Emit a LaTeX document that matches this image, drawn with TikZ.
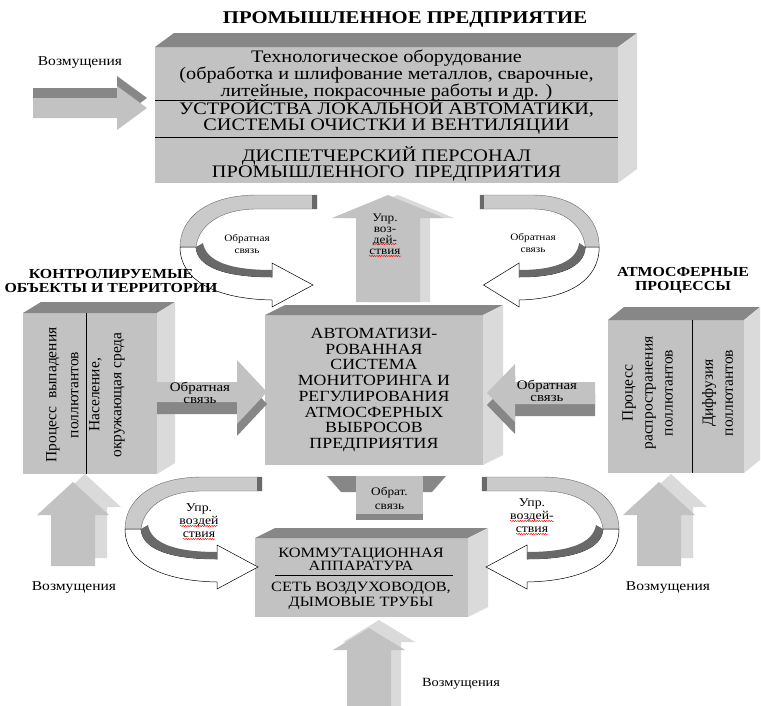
\documentclass[tikz,border=0pt]{standalone}
\usepackage{fontspec}
\setmainfont{Liberation Serif}[FakeStretch=1.15]
\newfontfamily\rotfont{Liberation Serif}
\usepackage{tikz}
\usetikzlibrary{positioning, decorations.pathmorphing}
\definecolor{facegray}{RGB}{194,194,194}
\definecolor{topgray}{RGB}{135,135,135}
\definecolor{sidegray}{RGB}{218,218,218}
\definecolor{bandgray}{RGB}{202,202,202}
\definecolor{edgegray}{RGB}{105,105,105}

% top and side faces of a 3D block
\newcommand{\blockfaces}[3]{%
  \fill[topgray] (#1.north west) -- ++(#2,-#3) -- ([shift={(#2,-#3)}]#1.north east) -- (#1.north east) -- cycle;
  \fill[sidegray] (#1.north east) -- ++(#2,-#3) -- ([shift={(#2,-#3)}]#1.south east) -- (#1.south east) -- cycle;}

\tikzset{
  pics/blockarrow/.style n args={5}{code={%
    \fill[#5] (0,-#2) -- ({#1-#4},-#2) -- ({#1-#4},-#3) -- (#1,0) -- ({#1-#4},#3) -- ({#1-#4},#2) -- (0,#2) -- cycle;}},
  pics/twist/.style={code={%
    % upper band
    \filldraw[fill=bandgray, draw=edgegray, line width=0.4pt] (0,2) -- (-60,2) .. controls (-110,2) and (-137,25) .. (-137,54)
      -- (-121,54) .. controls (-119,35) and (-100,16) .. (-60,16) -- (0,16) -- cycle;
    \fill[edgegray] (-5,2) rectangle (0,16);
    % lower band and head
    \filldraw[fill=white, draw=black, line width=0.5pt] (-137,54) .. controls (-137,88) and (-100,106) .. (-45,107)
      -- (-45,114) -- (-4,92) -- (-45,70) -- (-45,84) .. controls (-92,84) and (-120,74) .. (-121,54) -- cycle;
    \fill[edgegray] (-121,54) .. controls (-120,74) and (-92,84) .. (-45,84) -- (-45,77)
      .. controls (-88,77) and (-111,68) .. (-114,50) -- cycle;}}
}

\begin{document}
\begin{tikzpicture}[x=1pt, y=-1pt,
    front/.style={fill=facegray, inner sep=0pt, outer sep=0pt},
    boxtext/.style={align=center, inner sep=0pt},
    lbl/.style={align=center, inner sep=0pt},
    sectitle/.style={align=center, inner sep=0pt, font=\bfseries\fontsize{13.8}{14}\selectfont},
    rottext/.style={align=center, inner sep=0pt, rotate=90},
    sep/.style={line width=0.8pt},
    spell/.style={draw=red, line width=0.45pt, decorate, decoration={snake, amplitude=0.6pt, segment length=2.4pt}}
]
\useasboundingbox (0,0) rectangle (761,705);

\node[font=\bfseries\fontsize{18}{20}\selectfont] (title) at (405,19) {ПРОМЫШЛЕННОЕ ПРЕДПРИЯТИЕ};

% industrial plant
\node[front, minimum width=463, minimum height=136] (plant) at (386.5,115) {};
\blockfaces{plant}{19}{14}
\node[boxtext, font=\fontsize{17.6}{17}\selectfont] (equip) at (386.5,75)
  {Технологическое оборудование\\(обработка и шлифование металлов, сварочные,\\литейные, покрасочные работы и др. )};
\draw[sep] (plant.west |- 0,100) -- (plant.east |- 0,100);
\node[boxtext, font=\fontsize{17.6}{16.5}\selectfont] (devices) at (386.5,117)
  {УСТРОЙСТВА ЛОКАЛЬНОЙ АВТОМАТИКИ,\\СИСТЕМЫ ОЧИСТКИ И ВЕНТИЛЯЦИИ};
\draw[sep] (plant.west |- 0,137) -- (plant.east |- 0,137);
\node[boxtext, font=\fontsize{17.6}{16.5}\selectfont] (staff) at (386.5,164)
  {ДИСПЕТЧЕРСКИЙ ПЕРСОНАЛ\\ПРОМЫШЛЕННОГО\ \ ПРЕДПРИЯТИЯ};

% monitoring system
\node[front, minimum width=218, minimum height=150, align=center, font=\fontsize{15.5}{15.7}\selectfont] (ams) at (374,390)
  {АВТОМАТИЗИ-\\РОВАННАЯ\\СИСТЕМА\\МОНИТОРИНГА И\\РЕГУЛИРОВАНИЯ\\АТМОСФЕРНЫХ\\ВЫБРОСОВ\\ПРЕДПРИЯТИЯ};
\blockfaces{ams}{20}{10}

% controlled objects
\node[front, minimum width=134, minimum height=161] (objects) at (90,393.5) {};
\blockfaces{objects}{18}{11}
\draw[sep] (86,0 |- objects.north) -- (86,0 |- objects.south);
\node[rottext, font=\rotfont\fontsize{15.5}{22}\selectfont] (fallout) at (62.5,395) {Процесс\ \ выпадения\\поллютантов};
\node[rottext, font=\rotfont\fontsize{15.5}{22}\selectfont] (people) at (107,395) {Население,\\окружающая среда};

% atmospheric processes
\node[front, minimum width=136, minimum height=153] (atmos) at (676,396.5) {};
\blockfaces{atmos}{16}{13}
\draw[sep] (692,0 |- atmos.north) -- (692,0 |- atmos.south);
\node[rottext, font=\rotfont\fontsize{15.5}{20}\selectfont] (spread) at (647.5,393) {Процесс\\распространения\\поллютантов};
\node[rottext, font=\rotfont\fontsize{15.5}{20}\selectfont] (diffus) at (717.5,393) {Диффузия\\поллютантов};

% switching gear
\node[front, minimum width=213, minimum height=79] (switch) at (361.5,577.5) {};
\blockfaces{switch}{20}{10}
\node[boxtext, font=\fontsize{14.2}{13.5}\selectfont] (gear) at (361,559.5) {КОММУТАЦИОННАЯ\\АППАРАТУРА};
\draw[line width=0.6pt] (275,575) -- (453,575);
\node[boxtext, font=\fontsize{14.2}{15.5}\selectfont] (ducts) at (361,596) {СЕТЬ ВОЗДУХОВОДОВ,\\ДЫМОВЫЕ ТРУБЫ};

% straight block arrows
\pic at (33,98) {blockarrow={114}{10}{22}{30}{topgray}};
\pic at (33,108) {blockarrow={114}{10}{22}{30}{facegray}};
\pic at (157,404) {blockarrow={110}{10}{32}{30}{topgray}};
\pic at (157,392) {blockarrow={110}{10}{32}{30}{facegray}};
\pic[rotate=180] at (595,405) {blockarrow={108}{11}{29}{28}{topgray}};
\pic[rotate=180] at (595,393) {blockarrow={108}{11}{29}{28}{facegray}};
\pic[rotate=90] at (398,302) {blockarrow={107}{32}{56}{23}{sidegray}};
\pic[rotate=90] at (388,302) {blockarrow={107}{32}{56}{23}{facegray}};
\pic[rotate=90] at (85,558) {blockarrow={84}{22}{36}{33}{sidegray}};
\pic[rotate=90] at (73,566) {blockarrow={84}{22}{36}{33}{facegray}};
\pic[rotate=90] at (671,558) {blockarrow={84}{22}{36}{33}{sidegray}};
\pic[rotate=90] at (659,566) {blockarrow={84}{22}{36}{33}{facegray}};
\pic[rotate=90] at (379,710) {blockarrow={90}{22}{36}{22}{sidegray}};
\pic[rotate=90] at (369,710) {blockarrow={82}{22}{36}{22}{facegray}};

% short feedback arrow under the system
\fill[topgray] (327,476) -- (446,476) -- (432,492) -- (341,492) -- cycle;
\node[fill=facegray, minimum width=67, minimum height=44, inner sep=0pt, align=center,
      font=\fontsize{11.5}{14}\selectfont] (fbc) at (389.5,498) {Обрат.\\связь};
\fill[topgray] (fbc.south west) rectangle ([yshift=6pt]fbc.south east);

% twisted loop arrows
\pic at (317,193) {twist};
\pic[xscale=-0.87] at (480,193) {twist};
\pic at (262,475) {twist};
\pic[xscale=-1] at (482,475) {twist};

% labels
\node[lbl, font=\fontsize{13.5}{13}\selectfont] (dist1) at (80,63) {Возмущения};
\node[lbl, font=\fontsize{13.5}{13}\selectfont] (dist2) at (74,588) {Возмущения};
\node[lbl, font=\fontsize{13.5}{13}\selectfont] (dist3) at (668,588) {Возмущения};
\node[lbl, font=\fontsize{12.5}{12}\selectfont] (dist4) at (461,684) {Возмущения};
\node[sectitle] (objtitle) at (111,281) {КОНТРОЛИРУЕМЫЕ\\ОБЪЕКТЫ И ТЕРРИТОРИИ};
\node[sectitle] (atmtitle) at (683,280) {АТМОСФЕРНЫЕ\\ПРОЦЕССЫ};
\node[lbl, font=\fontsize{13}{11.5}\selectfont] (fbl) at (200,393) {Обратная\\связь};
\node[lbl, font=\fontsize{13}{11.5}\selectfont] (fbr) at (547,391) {Обратная\\связь};
\node[lbl, font=\fontsize{9.8}{12}\selectfont] (fbtl) at (247,244) {Обратная\\связь};
\node[lbl, font=\fontsize{9.8}{12}\selectfont] (fbtr) at (533,243) {Обратная\\связь};
\node[lbl, font=\fontsize{11.5}{11}\selectfont] (ctl) at (385,234) {Упр.\\воз-\\дей-\\ствия};
\node[lbl, font=\fontsize{12}{13}\selectfont] (ctll) at (199,521) {Упр.\\воздей\\ствия};
\node[lbl, font=\fontsize{12}{13}\selectfont] (ctlr) at (532,516) {Упр.\\воздей-\\ствия};

% spelling marks
\draw[spell] (373,244) -- (397,244);
\draw[spell] (369,256) -- (401,256);
\draw[spell] (180,526) -- (218,526);
\draw[spell] (183,539) -- (215,539);
\draw[spell] (510,521) -- (554,521);
\draw[spell] (516,534) -- (548,534);
\end{tikzpicture}
\end{document}
